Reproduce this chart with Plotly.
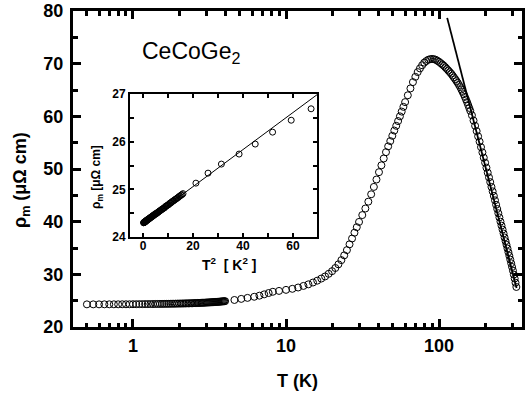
import plotly.graph_objects as go
import numpy as np

# ---------------- data ----------------
T_low = [0.50, 0.55, 0.60, 0.65, 0.70, 0.75, 0.80, 0.85, 0.90, 0.95,
         1.00, 1.05, 1.10, 1.15, 1.20, 1.25, 1.30, 1.35, 1.40, 1.45,
         1.50, 1.55, 1.60, 1.65, 1.70, 1.75, 1.80, 1.85, 1.90, 1.95,
         2.00, 2.05, 2.10, 2.15, 2.20, 2.25, 2.30, 2.35, 2.40, 2.45,
         2.50, 2.55, 2.60, 2.65, 2.70, 2.75, 2.80, 2.85, 2.90, 2.95,
         3.00, 3.05, 3.10, 3.15, 3.20, 3.25, 3.30, 3.35, 3.40, 3.45,
         3.50, 3.55, 3.60, 3.65, 3.70, 3.75, 3.80, 3.85, 3.90, 3.95, 4.00]
rho_low = [24.30, 24.30, 24.30, 24.31, 24.31, 24.31, 24.31, 24.32, 24.32, 24.32,
           24.33, 24.33, 24.34, 24.34, 24.35, 24.35, 24.36, 24.36, 24.37, 24.37,
           24.38, 24.38, 24.39, 24.40, 24.40, 24.41, 24.42, 24.42, 24.43, 24.44,
           24.45, 24.45, 24.46, 24.47, 24.48, 24.49, 24.49, 24.50, 24.51, 24.52,
           24.53, 24.54, 24.55, 24.56, 24.57, 24.58, 24.59, 24.60, 24.61, 24.62,
           24.64, 24.65, 24.66, 24.67, 24.68, 24.70, 24.71, 24.72, 24.74, 24.75,
           24.76, 24.78, 24.79, 24.80, 24.82, 24.83, 24.85, 24.86, 24.88, 24.89, 24.91]

T_mid = [4.6, 5.1, 5.6, 6.2, 6.7, 7.2, 7.7, 8.2,
         9, 10, 11, 12, 13, 14, 15, 16, 17, 18, 19, 20,
         21, 22, 23, 24, 25, 26, 27, 28, 29, 30,
         31.5, 33, 34.5, 36, 37.5, 39, 40.5, 42, 43.5, 45,
         46.5, 48, 49.5, 51, 52.5, 54, 55.5, 57, 58.5, 60]
rho_mid = [25.13, 25.34, 25.53, 25.74, 25.95, 26.20, 26.45, 26.69,
           26.85, 27.05, 27.25, 27.5, 27.8, 28.1, 28.45, 28.8, 29.2, 29.6, 30.1, 30.6,
           31.2, 31.9, 32.7, 33.6, 34.6, 35.7, 36.8, 37.9, 38.95, 39.95,
           41.25, 42.5, 43.8, 45.2, 46.6, 48.0, 49.4, 50.7, 52.0, 53.2,
           54.3, 55.3, 56.3, 57.3, 58.2, 59.1, 60.0, 60.9, 61.8, 62.7]

T_high = [62.5, 65, 67.5, 70, 72.5, 75, 77.5, 80, 82.5, 85,
          87.5, 90, 92.5, 95, 97.5, 100, 102.5, 105, 107.5, 110,
          112.5, 115, 117.5, 120, 122.5, 125, 127.5, 130, 132.5, 135,
          137.5, 140, 142.5, 145, 147.5, 150, 152.5, 155, 157.5, 160,
          164, 168, 172, 176, 180, 184, 188, 192, 196, 200,
          204, 208, 212, 216, 220, 224, 228, 232, 236, 240,
          244, 248, 252, 256, 260, 264, 268, 272, 276, 280,
          284, 288, 292, 296, 300, 304, 308, 312, 316, 320]
rho_high = [64.0, 65.3, 66.5, 67.5, 68.4, 69.1, 69.7, 70.2, 70.5, 70.75,
            70.85, 70.9, 70.85, 70.75, 70.55, 70.35, 70.1, 69.85, 69.6, 69.3,
            69.0, 68.7, 68.4, 68.1, 67.75, 67.4, 67.05, 66.7, 66.35, 65.95,
            65.55, 65.1, 64.65, 64.2, 63.7, 63.2, 62.7, 62.15, 61.6, 61.05,
            60.2, 59.2, 58.2, 57.2, 56.2, 55.2, 54.15, 53.15, 52.15, 51.2,
            50.25, 49.3, 48.4, 47.5, 46.6, 45.75, 44.9, 44.05, 43.2, 42.4,
            41.6, 40.8, 40.0, 39.25, 38.5, 37.75, 37.0, 36.3, 35.6, 34.9,
            34.2, 33.5, 32.8, 32.1, 31.4, 30.7, 29.95, 29.2, 28.4, 27.6]

T_fit = [113, 321]
rho_fit = [78.7, 27.4]

# T^2 fit line in the inset
T2_fit = [0, 70]
rho2_fit = [24.28, 27.0]

x_tickvals = [1, 10, 100]
x_ticktext = ["1", "10", "100"]
x_minor = [0.5, 0.6, 0.7, 0.8, 0.9, 2, 3, 4, 5, 6, 7, 8, 9,
           20, 30, 40, 50, 60, 70, 80, 90, 200, 300]

# ---------------------------------------------------------------
T = np.array(T_low + T_mid + T_high)
rho = np.array(rho_low + rho_mid + rho_high)
inset_mask = T <= 8.3

FONT = "Liberation Sans"

fig = go.Figure()
fig.add_trace(go.Scatter(
    x=T, y=rho, mode="markers", xaxis="x", yaxis="y",
    marker=dict(symbol="circle-open", size=7, color="black", line=dict(width=1)),
    showlegend=False))
fig.add_trace(go.Scatter(
    x=T_fit, y=rho_fit, mode="lines", xaxis="x", yaxis="y",
    line=dict(color="black", width=1.8), showlegend=False))

fig.add_trace(go.Scatter(
    x=T[inset_mask] ** 2, y=rho[inset_mask], mode="markers", xaxis="x2", yaxis="y2",
    marker=dict(symbol="circle-open", size=6, color="black", line=dict(width=1)),
    showlegend=False))
fig.add_trace(go.Scatter(
    x=T2_fit, y=rho2_fit, mode="lines", xaxis="x2", yaxis="y2",
    line=dict(color="black", width=1), showlegend=False))

main_tickfont = dict(family=FONT, size=18, color="black", weight="bold")
inset_tickfont = dict(family=FONT, size=12, color="black", weight="bold")

fig.update_layout(
    width=531, height=397,
    margin=dict(l=73, r=9, t=11, b=70, autoexpand=False),
    paper_bgcolor="white", plot_bgcolor="white",
    xaxis=dict(
        type="log", range=[-0.392, 2.542], domain=[0, 1], anchor="y",
        automargin=False,
        showline=True, linewidth=3, linecolor="black", mirror="allticks",
        ticks="inside", ticklen=8, tickwidth=2.5, tickcolor="black",
        tickvals=x_tickvals, ticktext=x_ticktext,
        minor=dict(ticks="inside", ticklen=4.5, tickwidth=2.5, tickcolor="black",
                   tickvals=x_minor, showgrid=False),
        showgrid=False, zeroline=False, tickfont=main_tickfont,
    ),
    yaxis=dict(
        range=[20, 80], domain=[0, 1], anchor="x",
        automargin=False,
        showline=True, linewidth=3, linecolor="black", mirror="allticks",
        ticks="inside", ticklen=8, tickwidth=2.5, tickcolor="black",
        dtick=10, tick0=20, ticklabelstandoff=3,
        minor=dict(ticks="inside", ticklen=4.5, tickwidth=2.5, tickcolor="black",
                   dtick=5, tick0=20, showgrid=False),
        showgrid=False, zeroline=False, tickfont=main_tickfont,
    ),
    xaxis2=dict(
        range=[-5.2, 69.6], domain=[0.127, 0.5434], anchor="y2",
        automargin=False,
        showline=True, linewidth=1.8, linecolor="black", mirror="allticks",
        ticks="inside", ticklen=4, tickwidth=1.5, tickcolor="black",
        tickvals=[0, 20, 40, 60], ticklabelstandoff=-3,
        minor=dict(ticks="inside", ticklen=4, tickwidth=1.5, tickcolor="black",
                   tickvals=[10, 30, 50], showgrid=False),
        showgrid=False, zeroline=False, tickfont=inset_tickfont,
    ),
    yaxis2=dict(
        range=[24, 27], domain=[0.2848, 0.7373], anchor="x2",
        automargin=False,
        showline=True, linewidth=1.8, linecolor="black", mirror="allticks",
        ticks="inside", ticklen=4, tickwidth=1.5, tickcolor="black",
        dtick=1, tick0=24,
        minor=dict(ticks="inside", ticklen=4, tickwidth=1.5, tickcolor="black",
                   dtick=0.5, tick0=24, showgrid=False),
        showgrid=False, zeroline=False, tickfont=inset_tickfont,
    ),
    annotations=[
        dict(text="ρ<sub>m</sub> (μΩ cm)", xref="paper", yref="paper",
             x=-0.1136, y=0.4652, xanchor="center", yanchor="middle",
             textangle=-90, showarrow=False,
             font=dict(family=FONT, size=18, color="black", weight="bold")),
        dict(text="T (K)", xref="paper", yref="paper",
             x=0.501, y=-0.1709, xanchor="center", yanchor="middle",
             showarrow=False,
             font=dict(family=FONT, size=18, color="black", weight="bold")),
        dict(text="CeCoGe<sub>2</sub>", xref="paper", yref="paper",
             x=0.1492, y=0.8671, xanchor="left", yanchor="middle",
             showarrow=False,
             font=dict(family=FONT, size=23, color="black")),
        dict(text="ρ<sub>m</sub> [μΩ cm]", xref="paper", yref="paper",
             x=0.0535, y=0.4747, xanchor="center", yanchor="middle",
             textangle=-90, showarrow=False,
             font=dict(family=FONT, size=12, color="black", weight="bold")),
        dict(text="T<sup>2</sup>  [ K<sup>2</sup> ]", xref="paper", yref="paper",
             x=0.347, y=0.1994, xanchor="center", yanchor="middle",
             showarrow=False,
             font=dict(family=FONT, size=14, color="black", weight="bold")),
    ],
)

fig.write_html(
    "out.html",
    config={"displayModeBar": False},
    post_script="document.body.style.margin='0px';document.body.style.padding='0px';",
)
